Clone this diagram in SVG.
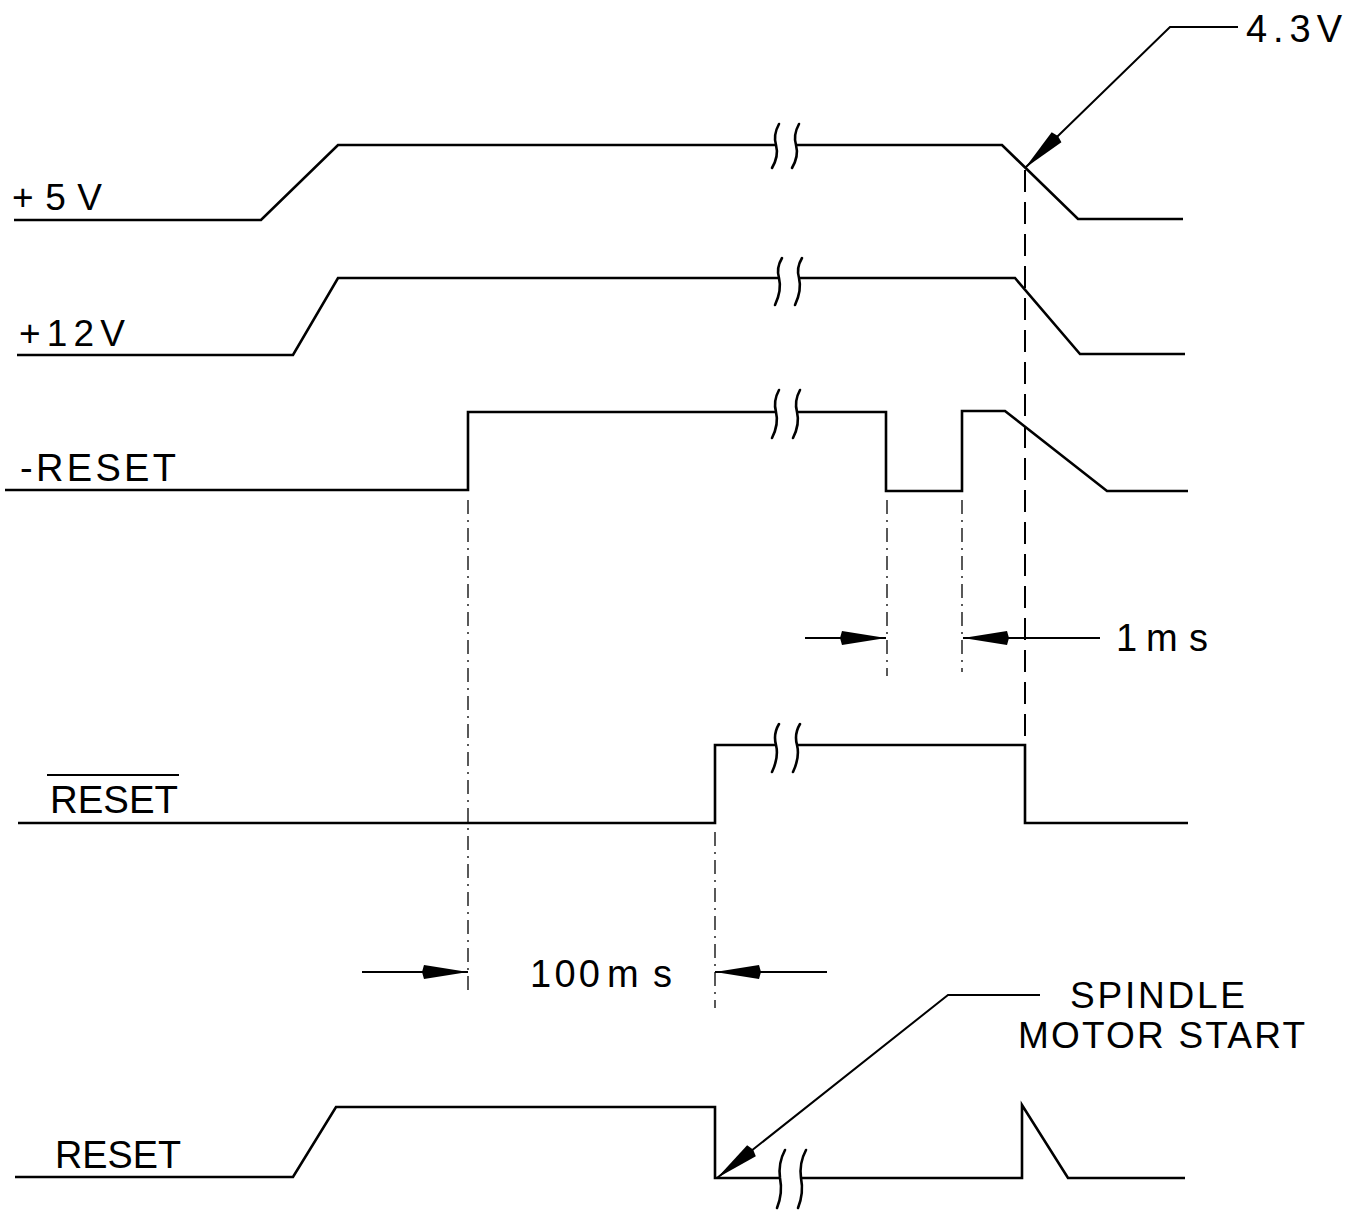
<svg xmlns="http://www.w3.org/2000/svg" width="1367" height="1212" viewBox="0 0 1367 1212">
<style>
.sig{fill:none;stroke:#000;stroke-width:2.6;stroke-linejoin:miter}
.brk{fill:none;stroke:#000;stroke-width:2.6;stroke-linecap:round}
.ldr{fill:none;stroke:#000;stroke-width:2}
.dim{fill:none;stroke:#000;stroke-width:1.8}
.thin{fill:none;stroke:#000;stroke-width:1.3;stroke-dasharray:14 6 2 6}
.dash{fill:none;stroke:#000;stroke-width:2;stroke-dasharray:22 10}
text{font-family:"Liberation Sans",Arial,sans-serif;fill:#000}
</style>
<defs>
<marker id="ah" markerUnits="userSpaceOnUse" markerWidth="50" markerHeight="20" viewBox="-48 -10 50 20" refX="0" refY="0" orient="auto">
<path d="M0,0 L-44,-7 L-46,0 L-44,7 Z" fill="#000"/>
</marker>
</defs>
<rect width="1367" height="1212" fill="#fff"/>

<g id="sig-5v">
<path class="sig" d="M14 220 L261 220 L338 145 L776 145 M796 145 L1002 145 L1078 219 L1183 219"/>
<path class="brk" d="M779 124 Q773 135 776 145 Q779 156 772 168 M799 124 Q793 135 796 145 Q799 156 792 168"/>
<text x="12" y="210" font-size="37" textLength="90" lengthAdjust="spacing">+5V</text>
</g>

<g id="sig-12v">
<path class="sig" d="M17 355 L293 355 L338 278 L779 278 M799 278 L1015 278 L1080 354 L1185 354"/>
<path class="brk" d="M782 258 Q776 268 779 278 Q782 290 775 305 M802 258 Q796 268 799 278 Q802 290 795 305"/>
<text x="19" y="346" font-size="37" textLength="106" lengthAdjust="spacing">+12V</text>
</g>

<g id="sig-minus-reset">
<path class="sig" d="M5 490 L468 490 L468 412 L776 412 M797 412 L886 412 L886 491 L962 491 L962 411 L1005 411 L1107 491 L1188 491"/>
<path class="brk" d="M779 390 Q773 401 776 412 Q779 424 772 438 M800 390 Q794 401 797 412 Q800 424 793 438"/>
<text x="20" y="481" font-size="38" textLength="156" lengthAdjust="spacing">-RESET</text>
</g>

<g id="sig-reset-bar">
<path class="sig" d="M18 823 L715 823 L715 745 L776 745 M797 745 L1025 745 L1025 823 L1188 823"/>
<path class="brk" d="M779 724 Q773 734 776 745 Q779 757 772 772 M800 724 Q794 734 797 745 Q800 757 793 772"/>
<text x="50" y="813" font-size="38" textLength="128" lengthAdjust="spacingAndGlyphs">RESET</text>
<line x1="47" y1="775" x2="179" y2="775" stroke="#000" stroke-width="2.2"/>
</g>

<g id="sig-reset">
<path class="sig" d="M15 1177 L293 1177 L336 1107 L715 1107 L715 1178 L780 1178 M801 1178 L1022 1178 L1022 1105 L1068 1178 L1185 1178"/>
<path class="brk" d="M785 1150 Q778 1163 780 1178 Q783 1193 777 1208 M806 1150 Q799 1163 801 1178 Q804 1193 798 1208"/>
<text x="55" y="1168" font-size="39" textLength="126" lengthAdjust="spacingAndGlyphs">RESET</text>
</g>

<g id="label-43v">
<text x="1246" y="42" font-size="38" textLength="96" lengthAdjust="spacing">4.3V</text>
</g>
<g id="label-1ms">
<text x="1116" y="651" font-size="38"><tspan>1</tspan><tspan x="1146" textLength="62" lengthAdjust="spacing">ms</tspan></text>
</g>
<g id="label-100ms">
<text x="530" y="987" font-size="38"><tspan textLength="70" lengthAdjust="spacing">100</tspan><tspan x="607" textLength="65" lengthAdjust="spacing">ms</tspan></text>
</g>
<g id="label-spindle">
<text x="1070" y="1008" font-size="37" textLength="175" lengthAdjust="spacing">SPINDLE</text>
<text x="1018" y="1048" font-size="37" textLength="287" lengthAdjust="spacing">MOTOR START</text>
</g>

<g id="connectors">
<path class="ldr" d="M1238 27 L1170 27 L1025 168" marker-end="url(#ah)"/>
<path class="ldr" d="M1040 995 L948 995 L717 1178" marker-end="url(#ah)"/>
<path class="dim" d="M805 638 L886 638" marker-end="url(#ah)"/>
<path class="dim" d="M1100 638 L963 638" marker-end="url(#ah)"/>
<path class="dim" d="M362 972 L468 972" marker-end="url(#ah)"/>
<path class="dim" d="M827 972 L715 972" marker-end="url(#ah)"/>
<path class="thin" d="M468 500 L468 990"/>
<path class="thin" d="M887 500 L887 676"/>
<path class="thin" d="M962 500 L962 672"/>
<path class="thin" d="M715 832 L715 1008"/>
<path class="dash" d="M1025 170 L1025 745"/>
</g>
</svg>
